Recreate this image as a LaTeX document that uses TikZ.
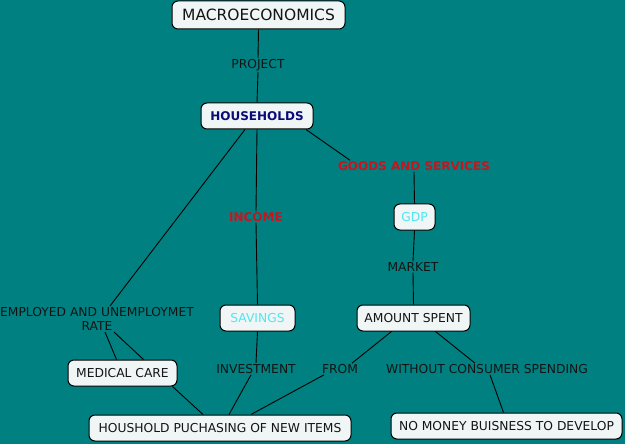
\documentclass[tikz,border=0pt]{standalone}
\usepackage{fontspec}
\setmainfont{DejaVu Sans}
\definecolor{bgteal}{HTML}{008080}
\definecolor{boxfill}{HTML}{F0F6F6}
\definecolor{lblred}{HTML}{C8141E}
\definecolor{navy}{HTML}{0A0A78}
\definecolor{cyantext}{HTML}{50E6F0}
\definecolor{lbltext}{HTML}{141414}
\begin{document}
\begin{tikzpicture}[x=1pt,y=-1pt,
  conc/.style={draw=black,line width=1pt,fill=boxfill,rounded corners=6pt,inner sep=0pt,font=\fontsize{12.3}{14}\selectfont,text=lbltext},
  lbl/.style={inner sep=1pt,font=\fontsize{12.3}{14}\selectfont,text=lbltext},
  rlbl/.style={inner sep=1pt,font=\fontsize{12}{14}\selectfont\bfseries,text=lblred},
  link/.style={draw=black,line width=0.9pt}]
\fill[bgteal] (0,0) rectangle (625,444);
\useasboundingbox (0,0) rectangle (625,444);
% concepts
\node[conc,minimum width=173pt,minimum height=28pt,font=\fontsize{15.5}{17}\selectfont] (macro) at (258.5,15) {MACROECONOMICS};
\node[conc,minimum width=112pt,minimum height=26pt,font=\fontsize{12}{14}\selectfont\bfseries,text=navy] (hh) at (257,116) {HOUSEHOLDS};
\node[conc,minimum width=41pt,minimum height=26pt,text=cyantext] (gdp) at (414.5,217) {GDP};
\node[conc,minimum width=75pt,minimum height=26pt,text=cyantext] (sav) at (257.5,318) {SAVINGS};
\node[conc,minimum width=113pt,minimum height=26pt] (amt) at (413.5,318) {AMOUNT SPENT};
\node[conc,minimum width=109pt,minimum height=26pt] (med) at (122.5,373) {MEDICAL CARE};
\node[conc,minimum width=262pt,minimum height=26pt] (hpn) at (220,428) {HOUSHOLD PUCHASING OF NEW ITEMS};
\node[conc,minimum width=231pt,minimum height=26pt] (nomo) at (506.5,426) {NO MONEY BUISNESS TO DEVELOP};
% linking phrases
\node[lbl] (proj) at (258,65) {PROJECT};
\node[rlbl] (goods) at (414,166) {GOODS AND SERVICES};
\node[rlbl] (inc) at (256,217) {INCOME};
\node[lbl] (mkt) at (413,267) {MARKET};
\node[lbl,align=center,font=\fontsize{12.3}{14.5}\selectfont] (emp) at (97,319) {EMPLOYED AND UNEMPLOYMET\\RATE};
\node[lbl] (inv) at (256,369) {INVESTMENT};
\node[lbl] (from) at (340,369) {FROM};
\node[lbl] (wcs) at (487,369) {WITHOUT CONSUMER SPENDING};
% connectors
\draw[link] (macro.south) -- (proj.north);
\draw[link] (proj.south) -- (hh.north);
\draw[link] ([xshift=49pt]hh.south) -- ([xshift=-64pt]goods.north);
\draw[link] (goods.south) -- (gdp.north);
\draw[link] (hh.south) -- (inc.north);
\draw[link] (inc.south) -- (sav.north);
\draw[link] ([xshift=-12pt]hh.south) -- ([xshift=13pt]emp.north);
\draw[link] (gdp.south) -- (mkt.north);
\draw[link] (mkt.south) -- (amt.north);
\draw[link] ([xshift=8pt]emp.south) -- ([xshift=-6pt]med.north);
\draw[link] ([xshift=17pt]emp.south) -- ([xshift=21pt]med.north);
\draw[link] (sav.south) -- (inv.north);
\draw[link] ([xshift=-5pt]inv.south) -- ([xshift=9pt]hpn.north);
\draw[link] ([xshift=50pt]med.south) -- ([xshift=-17pt]hpn.north);
\draw[link] ([xshift=-22pt]amt.south) -- ([xshift=12pt]from.north);
\draw[link] ([xshift=-16pt]from.south) -- ([xshift=31pt]hpn.north);
\draw[link] ([xshift=22pt]amt.south) -- ([xshift=-12pt]wcs.north);
\draw[link] ([xshift=3pt]wcs.south) -- ([xshift=-3pt]nomo.north);
\end{tikzpicture}
\end{document}
